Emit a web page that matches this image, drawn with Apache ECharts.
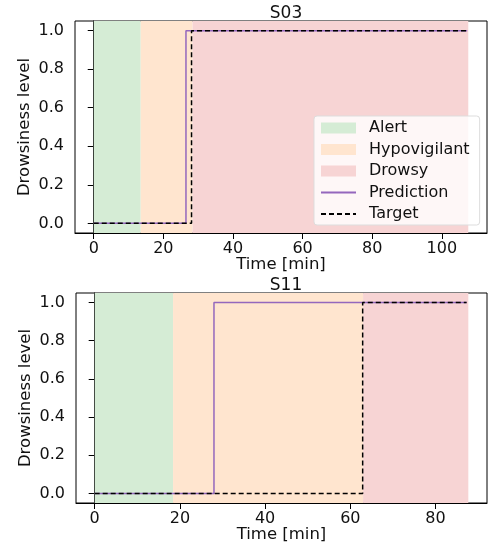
<!DOCTYPE html>
<html>
<head>
<meta charset="utf-8">
<script src="https://cdn.jsdelivr.net/npm/echarts@6/dist/echarts.min.js"></script>
<style>
  html, body { margin: 0; padding: 0; background: #fff; }
  #chart { width: 490px; height: 546px; }
</style>
</head>
<body>
<div id="chart"></div>
<script>
// stage edges [alert start, hypovigilant start, drowsy start, end] in minutes
var s03StageEdges = [0, 13.5, 28.4, 107.6];
var s03PredTime = [0, 26.5, 107.3];
var s03PredLevel = [0, 1, 1];
var s03TargetTime = [0, 28.1, 107.3];
var s03TargetLevel = [0, 1, 1];

var s11StageEdges = [0, 18.4, 63.0, 87.7];
var s11PredTime = [0, 28.0, 87.3];
var s11PredLevel = [0, 1, 1];
var s11TargetTime = [0, 62.9, 87.3];
var s11TargetLevel = [0, 1, 1];

var stageNames = ['Alert', 'Hypovigilant', 'Drowsy'];
var stageColors = ['#d5ecd5', '#ffe5cf', '#f7d4d4'];
var titles = ['S03', 'S11'];

var font = 'DejaVu Sans';
var txt = '#111';

function pairs(t, v) {
    return t.map(function (x, i) { return [x, v[i]]; });
}

function xAxisFor(idx, span) {
    return {
        type: 'value',
        gridIndex: idx,
        min: -span * 0.05,
        max: span * 1.05,
        name: 'Time [min]',
        nameLocation: 'middle',
        nameGap: 23,
        nameMoveOverlap: false,
        nameTextStyle: { fontFamily: font, fontSize: 16.5, color: txt },
        axisLine: { show: true, onZero: false, lineStyle: { color: '#000', width: 1 } },
        axisTick: { show: true, length: 6, lineStyle: { color: '#000' } },
        axisLabel: { showMinLabel: false, showMaxLabel: false, fontFamily: font, fontSize: 16, color: txt, margin: 8 },
        splitLine: { show: false }
    };
}

function yAxisFor(idx) {
    return {
        type: 'value',
        gridIndex: idx,
        min: -0.05,
        max: 1.05,
        name: 'Drowsiness level',
        nameLocation: 'middle',
        nameGap: 42,
        nameMoveOverlap: false,
        nameTextStyle: { fontFamily: font, fontSize: 16.5, color: txt },
        axisLine: { show: true, lineStyle: { color: '#000', width: 1 } },
        axisTick: { show: true, length: 6, lineStyle: { color: '#000' } },
        axisLabel: {
            showMinLabel: false, showMaxLabel: false, fontFamily: font, fontSize: 16, color: txt, margin: 11,
            formatter: function (v) { return v.toFixed(1); }
        },
        splitLine: { show: false }
    };
}

function stageSeries(idx, edges) {
    return stageNames.map(function (name, k) {
        return {
            name: name,
            type: 'custom',
            xAxisIndex: idx,
            yAxisIndex: idx,
            itemStyle: { color: stageColors[k] },
            encode: { x: [0, 1], y: 2 },
            data: [[edges[k], edges[k + 1], 0]],
            z: 1,
            renderItem: function (params, api) {
                var a = api.coord([api.value(0), 0]);
                var b = api.coord([api.value(1), 0]);
                var cs = params.coordSys;
                return {
                    type: 'rect',
                    shape: { x: a[0], y: cs.y, width: b[0] - a[0], height: cs.height },
                    style: { fill: stageColors[k] }
                };
            }
        };
    });
}

function lineSeries(idx, predT, predV, tgtT, tgtV) {
    return [
        {
            name: 'Prediction', type: 'line', xAxisIndex: idx, yAxisIndex: idx,
            step: 'end', symbol: 'none', z: 3,
            itemStyle: { color: '#9467bd' },
            lineStyle: { color: '#9467bd', width: 1.5 },
            data: pairs(predT, predV)
        },
        {
            name: 'Target', type: 'line', xAxisIndex: idx, yAxisIndex: idx,
            step: 'end', symbol: 'none', z: 4,
            itemStyle: { color: '#000' },
            lineStyle: { color: '#000', width: 1.5, type: [5, 3] },
            data: pairs(tgtT, tgtV)
        }
    ];
}

var chart = echarts.init(document.getElementById('chart'), null, { renderer: 'canvas' });

var option = {
    backgroundColor: '#fff',
    animation: false,
    title: [
        { text: titles[0], left: 281, top: 0, textAlign: 'center', textStyle: { fontFamily: font, fontSize: 17, fontWeight: 'normal', color: txt } },
        { text: titles[1], left: 281, top: 272, textAlign: 'center', textStyle: { fontFamily: font, fontSize: 17, fontWeight: 'normal', color: txt } }
    ],
    grid: [
        { left: 75, right: 3, top: 21, height: 212, show: true, borderColor: '#000', borderWidth: 1, backgroundColor: 'transparent' },
        { left: 76, right: 3, top: 293, height: 210, show: true, borderColor: '#000', borderWidth: 1, backgroundColor: 'transparent' }
    ],
    legend: {
        orient: 'vertical',
        left: 314,
        top: 116,
        itemWidth: 35,
        itemHeight: 11,
        itemGap: 5.5,
        padding: [4, 10, 3, 6],
        backgroundColor: 'rgba(255,255,255,0.8)',
        borderColor: '#ddd',
        borderWidth: 1,
        borderRadius: 3,
        selectedMode: false,
        textStyle: { fontFamily: font, fontSize: 16, color: txt, padding: [0, 0, 0, 8], lineHeight: 16 },
        data: [
            { name: 'Alert', icon: 'rect' },
            { name: 'Hypovigilant', icon: 'rect' },
            { name: 'Drowsy', icon: 'rect' },
            { name: 'Prediction', itemStyle: { opacity: 0 } },
            { name: 'Target', itemStyle: { opacity: 0 } }
        ]
    },
    xAxis: [xAxisFor(0, s03StageEdges[3]), xAxisFor(1, s11StageEdges[3])],
    yAxis: [yAxisFor(0), yAxisFor(1)],
    series: []
        .concat(stageSeries(0, s03StageEdges))
        .concat(lineSeries(0, s03PredTime, s03PredLevel, s03TargetTime, s03TargetLevel))
        .concat(stageSeries(1, s11StageEdges))
        .concat(lineSeries(1, s11PredTime, s11PredLevel, s11TargetTime, s11TargetLevel))
};

chart.setOption(option);
</script>
</body>
</html>
